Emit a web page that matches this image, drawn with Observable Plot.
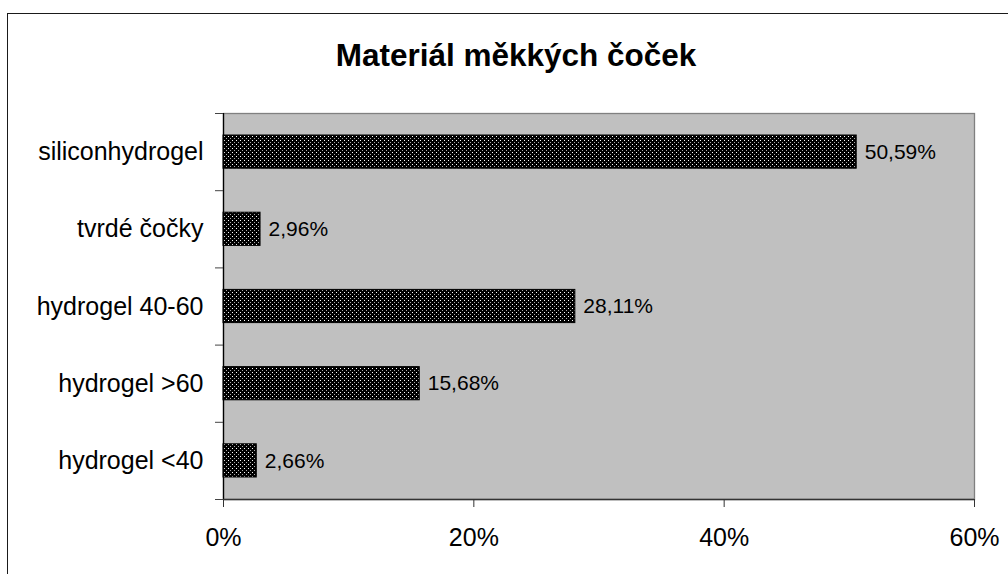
<!DOCTYPE html>
<html>
<head>
<meta charset="utf-8">
<script src="https://cdn.jsdelivr.net/npm/d3@7"></script>
<script src="https://cdn.jsdelivr.net/npm/@observablehq/plot@0.6"></script>
<style>
  html, body { margin: 0; padding: 0; background: #fff; overflow: hidden; width: 1008px; height: 574px; }
  #frame { position: absolute; left: 7px; top: 13px; width: 1100px; height: 700px; border-left: 1.3px solid #1a1a1a; border-top: 1.3px solid #1a1a1a; }
  #title { position: absolute; left: 316px; width: 400px; top: 40px; line-height: 31px; text-align: center;
           font-family: "Liberation Sans", Arial, sans-serif; font-weight: bold; font-size: 31.5px; color: #000; white-space: nowrap; }
  #chart { position: absolute; left: 0; top: 0; }
</style>
</head>
<body>
<div id="frame"></div>
<div id="title">Materiál měkkých čoček</div>
<div id="chart"></div>
<script>
const categories = ["siliconhydrogel", "tvrdé čočky", "hydrogel 40-60", "hydrogel >60", "hydrogel <40"];
const values = [50.59, 2.96, 28.11, 15.68, 2.66];
const valueLabels = ["50,59%", "2,96%", "28,11%", "15,68%", "2,66%"];
const xTicks = [0, 20, 40, 60];

const data = categories.map((c, i) => ({cat: c, i, v: values[i], label: valueLabels[i]}));
const barH = 0.43;
const font = "'Liberation Sans', Arial, sans-serif";

const svg = Plot.plot({
  width: 1008,
  height: 574,
  marginLeft: 223,
  marginRight: 34,
  marginTop: 113,
  marginBottom: 75,
  style: {fontFamily: font, color: "#000", background: "transparent", overflow: "visible"},
  x: {domain: [0, 60]},
  y: {domain: [0, categories.length], reverse: true},
  marks: [
    Plot.frame({fill: "#c0c0c0", stroke: "#808080", strokeWidth: 1.3}),
    Plot.rectX(data, {
      x1: 0, x2: "v",
      y1: d => d.i + 0.5 - barH / 2,
      y2: d => d.i + 0.5 + barH / 2,
      fill: "url(#dots)", stroke: "#000", strokeWidth: 1
    }),
    Plot.ruleX([0], {stroke: "#000", strokeWidth: 1.3}),
    Plot.ruleY([categories.length], {stroke: "#333", strokeWidth: 1.3}),
    Plot.axisX({ticks: xTicks, tickFormat: d => d + "%", tickSize: 8, tickPadding: 21, fontSize: 25, label: null, stroke: "#333"}),
    Plot.axisY({ticks: d3.range(categories.length + 1), tickFormat: () => "", tickSize: 8, label: null, stroke: "#444"}),
    Plot.axisY({ticks: categories.map((_, i) => i + 0.5), tickFormat: t => categories[Math.floor(t)], tickSize: 0, tickPadding: 20, fontSize: 25, label: null}),
    Plot.text(data, {x: "v", y: d => d.i + 0.5, text: "label", textAnchor: "start", dx: 8, fontSize: 21, fill: "#000"})
  ]
});

const defs = d3.select(svg).insert("defs", ":first-child");
const pat = defs.append("pattern").attr("id", "dots").attr("patternUnits", "userSpaceOnUse").attr("width", 4).attr("height", 4);
pat.append("rect").attr("width", 4).attr("height", 4).attr("fill", "#000");
pat.append("rect").attr("x", 0).attr("y", 0).attr("width", 1).attr("height", 1).attr("fill", "#fff");
pat.append("rect").attr("x", 2).attr("y", 2).attr("width", 1).attr("height", 1).attr("fill", "#aaa");

document.getElementById("chart").appendChild(svg);
</script>
</body>
</html>
